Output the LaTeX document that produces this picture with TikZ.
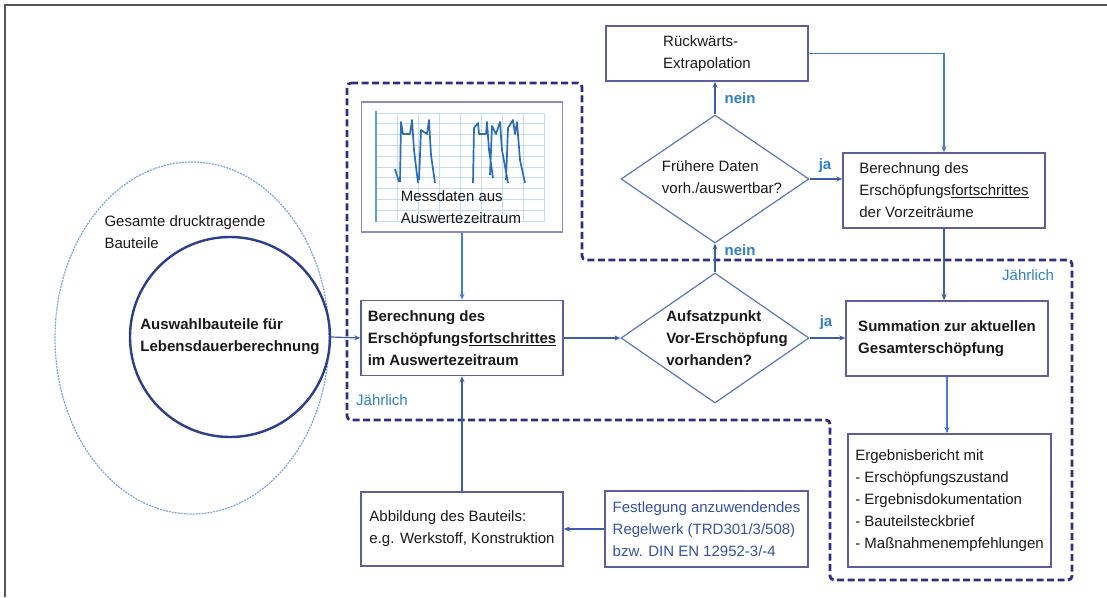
\documentclass[tikz,border=0pt]{standalone}
\usepackage{fontspec}
\setmainfont{Liberation Sans}
\usetikzlibrary{arrows.meta,positioning,shapes.geometric}
\definecolor{boxline}{HTML}{5E5E9E}
\definecolor{chartbox}{HTML}{8C8CC4}
\definecolor{arrowblue}{HTML}{3D5DAA}
\definecolor{lightarrow}{HTML}{3F7FD0}
\definecolor{labelblue}{HTML}{2F7FC6}
\definecolor{loopnavy}{HTML}{2E2E86}
\definecolor{diamondline}{HTML}{5B78B4}
\definecolor{ellipseblue}{HTML}{7AA6D6}
\definecolor{circleblue}{HTML}{2C3E8E}
\definecolor{gridblue}{HTML}{C4DCF2}
\definecolor{axisblue}{HTML}{5AA0E0}
\definecolor{signalblue}{HTML}{2B6CB8}
\definecolor{regeltext}{HTML}{3552A6}
\definecolor{frameline}{HTML}{555555}
\newcommand\figfont{\fontsize{15}{22}\selectfont}
\tikzset{
  stepbox/.style={draw=boxline,line width=1.5pt,rectangle,minimum width=202pt,minimum height=75pt,align=left,inner sep=5pt},
  decision/.style={draw=diamondline,line width=1.2pt,diamond,minimum width=188pt,minimum height=130pt,inner sep=0pt},
  flow/.style={draw=arrowblue,line width=1.2pt,-{Stealth[length=6pt,width=5pt]}},
  answer/.style={text=labelblue,font=\figfont\bfseries},
  period/.style={text=labelblue,font=\figfont},
  loop/.style={draw=loopnavy,line width=2.8pt,dash pattern=on 7pt off 3.5pt,rounded corners=4pt}
}

\begin{document}
\begin{tikzpicture}[x=1pt,y=-1pt,every node/.style={font=\figfont,text=black!90}]
  \useasboundingbox (0,0) rectangle (1107,597);
  \draw[frameline,line width=1.5pt] (5,597) -- (5,5) -- (1107,5);

  % yearly loops
  \draw[loop] (347,83) -- (582,83) -- (582,260) -- (1072,260) -- (1072,580)
    -- (830,580) -- (830,420) -- (347,420) -- cycle;
  \node[period] (jahr1) at (382,400) {Jährlich};
  \node[period] (jahr2) at (1028,275) {Jährlich};

  % components
  \node[ellipse,draw=ellipseblue,line width=1.2pt,dash pattern=on 2pt off 1pt,
        minimum width=274pt,minimum height=352pt] (gesamt) at (192,338) {};
  \node[anchor=west,align=left] (gesamttext) at (101,232) {Gesamte drucktragende\\Bauteile};
  \node[circle,draw=circleblue,line width=2.4pt,minimum size=200pt,align=left,
        font=\figfont\bfseries] (auswahl) at (230,337) {Auswahlbauteile für\\Lebensdauerberechnung};

  % measured data
  \node[draw=chartbox,line width=1.5pt,minimum width=201pt,minimum height=130pt] (mess) at (462,167) {};
  \foreach \k in {0,...,10}
    \draw[gridblue,line width=0.7pt] (376,113+10.8*\k) -- (545,113+10.8*\k);
  \foreach \k in {1,...,8}
    \draw[gridblue,line width=0.7pt] (376+21*\k,113) -- (376+21*\k,221);
  \draw[axisblue,line width=1.4pt] (376,111) -- (376,222);
  \draw[signalblue,line width=1.7pt,line join=round]
    (395,169) -- (399,182) (400,182) -- (401,122) -- (403,134) -- (410,134) -- (412,120)
    -- (414,150) -- (418,183) (419,180) -- (421,130) -- (427,134) -- (429,120) -- (431,155) -- (435,183);
  \draw[signalblue,line width=1.7pt,line join=round]
    (473,183) -- (474,128) -- (478,123) -- (479,134) -- (486,134) -- (487,122) -- (489,150) -- (493,178)
    (490,175) -- (492,126) -- (496,134) -- (500,122) -- (502,150) -- (508,183)
    (506,180) -- (508,128) -- (513,120) -- (515,134) -- (517,122) -- (520,160) -- (525,183);
  \node[align=left] (messtext) at (461,207) {Messdaten aus\\Auswertezeitraum};

  % main chain
  \node[stepbox,font=\figfont\bfseries] (berech) at (462,338)
    {Berechnung des\\Erschöpfungs\underline{fortschrittes}\\im Auswertezeitraum};
  \node[stepbox,minimum height=74pt] (abbild) at (462,529)
    {Abbildung des Bauteils:\\e.g. Werkstoff, Konstruktion};
  \node[stepbox,minimum width=203pt,minimum height=76pt,text=regeltext] (regel) at (706.5,529)
    {Festlegung anzuwendendes\\Regelwerk (TRD301/3/508)\\bzw. DIN EN 12952-3/-4};

  \node[decision] (aufsatz) at (715,338) {};
  \node[align=left,font=\figfont\bfseries] (aufsatztext) at (727,338)
    {Aufsatzpunkt\\Vor-Erschöpfung\\vorhanden?};
  \node[decision,minimum height=128pt] (frueher) at (715,179) {};
  \node[align=left] (fruehertext) at (722,177) {Frühere Daten\\vorh./auswertbar?};

  \node[stepbox,minimum height=55pt] (rueck) at (707,53.5) {Rückwärts-\\Extrapolation};
  \node[stepbox] (vorzeit) at (944,190.5)
    {Berechnung des\\Erschöpfungs\underline{fortschrittes}\\der Vorzeiträume};
  \node[stepbox,font=\figfont\bfseries] (summe) at (947,338.5)
    {Summation zur aktuellen\\Gesamterschöpfung};
  \node[stepbox,minimum width=203pt,minimum height=133pt] (bericht) at (949.5,500.5)
    {Ergebnisbericht mit\\- Erschöpfungszustand\\- Ergebnisdokumentation\\- Bauteilsteckbrief\\- Maßnahmenempfehlungen};

  % connectors
  \draw[flow] (auswahl.east) -- (berech.west);
  \draw[flow,draw=lightarrow] (mess.south) -- (berech.north);
  \draw[flow] (abbild.north) -- (berech.south);
  \draw[flow] (regel.west) -- (abbild.east);
  \draw[flow] (berech.east) -- (aufsatz.west);
  \draw[flow] (aufsatz.east) -- (aufsatz.east -| summe.west);
  \draw[flow] (aufsatz.north) -- (frueher.south);
  \draw[flow] (frueher.north) -- (frueher.north |- rueck.south);
  \draw[flow] (frueher.east) -- (frueher.east -| vorzeit.west);
  \draw[flow,draw=lightarrow] (rueck.east) -| (vorzeit.north);
  \draw[flow] (vorzeit.south) -- (vorzeit.south |- summe.north);
  \draw[flow,draw=lightarrow] (summe.south) -- (summe.south |- bericht.north);

  \node[answer] (nein1) at (740,98) {nein};
  \node[answer] (nein2) at (740,250) {nein};
  \node[answer] (ja1) at (825,166) {ja};
  \node[answer] (ja2) at (826,323) {ja};
\end{tikzpicture}
\end{document}
